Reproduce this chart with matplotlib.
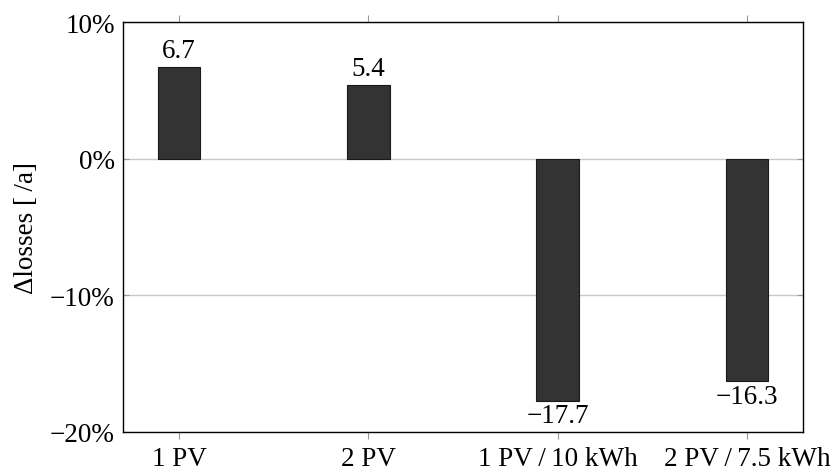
import matplotlib.pyplot as plt
import numpy as np

categories = ['1 PV', '2 PV', '1 PV\u2009/\u200910 kWh', '2 PV\u2009/\u20097.5 kWh']
values = [6.7, 5.4, -17.7, -16.3]
yticks = [-20, -10, 0, 10]

plt.rcParams['font.family'] = ['Liberation Serif', 'DejaVu Serif']
plt.rcParams['font.size'] = 19.5

fig = plt.figure(figsize=(8.32, 4.77), dpi=100)
ax = fig.add_axes([123 / 832, 1 - 433 / 477, 680 / 832, 410 / 477])

x = np.arange(len(categories))
ax.bar(x, values, width=0.225, color='#333333', edgecolor='#1a1a1a', linewidth=0.8, zorder=3)

# value labels above positive bars, below negative ones
for xi, v in zip(x, values):
    label = f'{v:.1f}'.replace('-', '\u2212')
    if v >= 0:
        ax.annotate(label, (xi, v), xytext=(0, 3), textcoords='offset points',
                    ha='center', va='bottom')
    else:
        ax.annotate(label, (xi, v), xytext=(0, -2), textcoords='offset points',
                    ha='center', va='top')

ax.set_xlim(-0.296, 3.296)
ax.set_ylim(-20, 10)
ax.set_xticks(x)
ax.set_xticklabels(categories)
ax.set_yticks(yticks)
ax.set_yticklabels([f'{t}%'.replace('-', '\u2212') for t in yticks])
ax.yaxis.grid(True, color='#c8c8c8', linewidth=1.0, zorder=0)

ax.tick_params(axis='x', direction='out', length=5, width=0.8, color='#999999',
               top=True, bottom=True, pad=5)
ax.tick_params(axis='y', direction='in', length=4, width=0.8, color='#999999',
               left=True, right=True, pad=6)
for s in ax.spines.values():
    s.set_linewidth(1.0)
    s.set_color('black')

ax.set_ylabel('\u0394losses [\u2009/a]', labelpad=8)

fig.savefig('out.png', dpi=100)
